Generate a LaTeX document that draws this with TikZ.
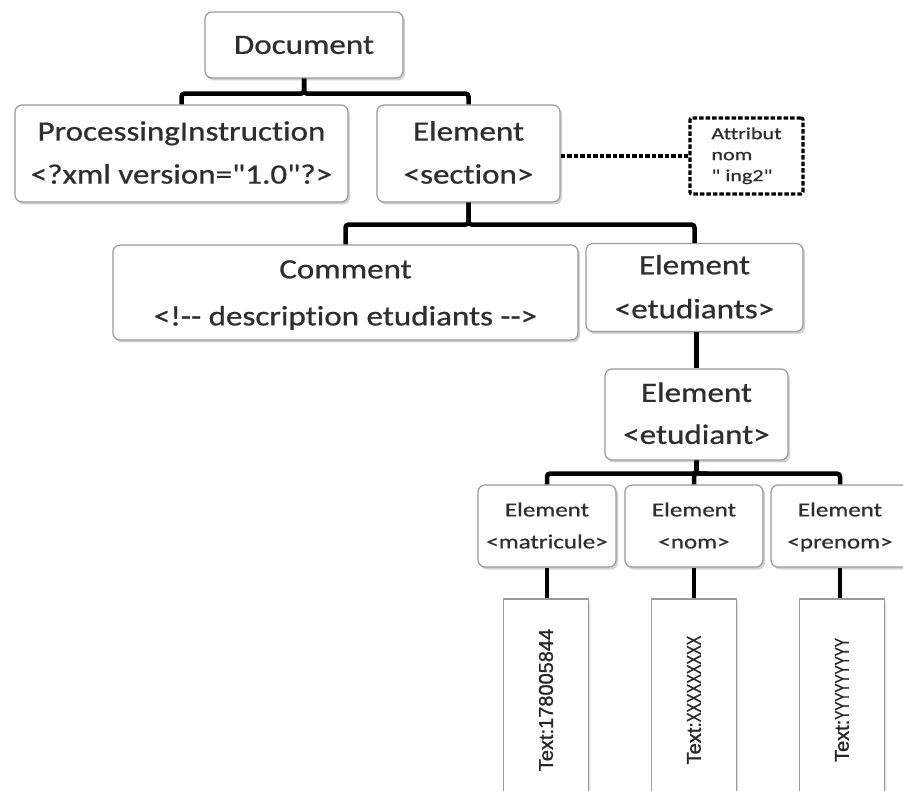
\documentclass[tikz,border=0pt]{standalone}
\usepackage{fontspec}
\setmainfont{Carlito}[Ligatures={TeXOff,CommonOff}, FakeBold=0.6]
\newfontfamily\arialfont{Liberation Sans}[FakeBold=1.2]
\usetikzlibrary{shadows}
\definecolor{boxline}{HTML}{9A9A9A}
\definecolor{boxtext}{HTML}{2E2E2E}
% horizontally widened label
\newcommand{\hx}[2][1.18]{\scalebox{#1}[1]{#2}}
\newcommand{\twolines}[2]{\begin{tabular}{@{}c@{}}#1\\#2\end{tabular}}
\tikzset{
  box/.style={draw=boxline, line width=1.2pt, rounded corners=7pt, fill=white,
    inner sep=0pt, text=boxtext,
    drop shadow={shadow xshift=2pt, shadow yshift=-2.5pt, fill=black!35, opacity=.5}},
  textbox/.style={draw=boxline, line width=1.5pt, fill=white, inner sep=0pt,
    minimum width=85pt, minimum height=202pt, text=black!85,
    drop shadow={shadow xshift=1.5pt, shadow yshift=-1.5pt, fill=black!25, opacity=.5}},
  attrbox/.style={draw=black, line width=3.2pt, dash pattern=on 4.5pt off 2pt,
    rounded corners=2pt, inner sep=0pt, text=boxtext},
  conn/.style={draw=black, line width=4.5pt, rounded corners=3pt},
  attrlink/.style={draw=black, line width=3.2pt, dash pattern=on 4.5pt off 2pt},
  big/.style={font=\fontsize{28}{43}\selectfont},
  small/.style={font=\fontsize{20}{32}\selectfont},
}
\begin{document}
\begin{tikzpicture}[x=1pt,y=-1pt]
\useasboundingbox (0,0) rectangle (903,791);
\fill[white] (0,0) rectangle (903,791);
\clip (0,0) rectangle (903,791);

% upper levels of the tree
\node[box, big, minimum width=198pt, minimum height=66pt] (doc) at (304,45)
  {\hx{Document}};
\node[box, big, minimum width=333pt, minimum height=97pt] (pi) at (181.5,153.5)
  {\hx{\twolines{ProcessingInstruction}{<?xml version="1.0"?>}}};
\node[box, big, minimum width=183pt, minimum height=97pt] (sec) at (468.5,153.5)
  {\hx{\twolines{Element}{<section>}}};
\node[attrbox, minimum width=113pt, minimum height=76pt,
      font=\fontsize{17}{21}\selectfont] (attr) at (746.5,156)
  {\hx[1.3]{\begin{tabular}{@{}l@{}}Attribut\\nom\\" ing2"\end{tabular}}};
\node[box, font=\fontsize{28}{47}\selectfont, minimum width=465pt, minimum height=95pt] (com) at (345.5,292.5)
  {\hx{\twolines{Comment}{<!-- description etudiants -->}}};
\node[box, font=\fontsize{28}{44}\selectfont, minimum width=217pt, minimum height=85pt] (etds) at (694.5,287.5)
  {\hx{\twolines{Element}{<etudiants>}}};
\node[box, font=\fontsize{28}{42}\selectfont, minimum width=183pt, minimum height=91pt] (etd) at (696.5,414.5)
  {\hx{\twolines{Element}{<etudiant>}}};

% leaf elements
\node[box, small, minimum width=138pt, minimum height=82pt] (mat) at (547,526)
  {\hx[1.25]{\twolines{Element}{<matricule>}}};
\node[box, small, minimum width=138pt, minimum height=82pt] (nom) at (694,526)
  {\hx[1.25]{\twolines{Element}{<nom>}}};
\node[box, small, minimum width=138pt, minimum height=82pt] (pre) at (840,526)
  {\hx[1.25]{\twolines{Element}{<prenom>}}};

% text contents
\node[textbox, font=\arialfont\fontsize{20}{24}\selectfont] (tmat) at (546,700)
  {\rotatebox{90}{Text:178005844}};
\node[textbox, font=\arialfont\fontsize{20}{24}\selectfont] (tnom) at (694,700)
  {\rotatebox{90}{Text:\scalebox{0.72}[1]{XXXXXXXXX}}};
\node[textbox, font=\arialfont\fontsize{20}{24}\selectfont] (tpre) at (842,700)
  {\rotatebox{90}{Text:\scalebox{0.68}[1]{YYYYYYYYY}}};

% connectors
\draw[conn] (doc.south) -- ++(0,15) -| (pi.north);
\draw[conn] (doc.south) -- ++(0,15) -| (sec.north);
\draw[attrlink] (sec.east |- attr.west) -- (attr.west);
\draw[conn] (sec.south) -- ++(0,22) -| (com.north);
\draw[conn] (sec.south) -- ++(0,22) -| (etds.north);
\draw[conn] (etd.north |- etds.south) -- (etd.north);
\draw[conn] (etd.south) -- ++(0,13) -| (mat.north);
\draw[conn] (etd.south) -- ++(0,13) -| (nom.north);
\draw[conn] (etd.south) -- ++(0,13) -| (pre.north);
\draw[conn] (mat.south) -- (mat.south |- tmat.north);
\draw[conn] (nom.south) -- (nom.south |- tnom.north);
\draw[conn] (pre.south) -- (pre.south |- tpre.north);
\end{tikzpicture}
\end{document}
